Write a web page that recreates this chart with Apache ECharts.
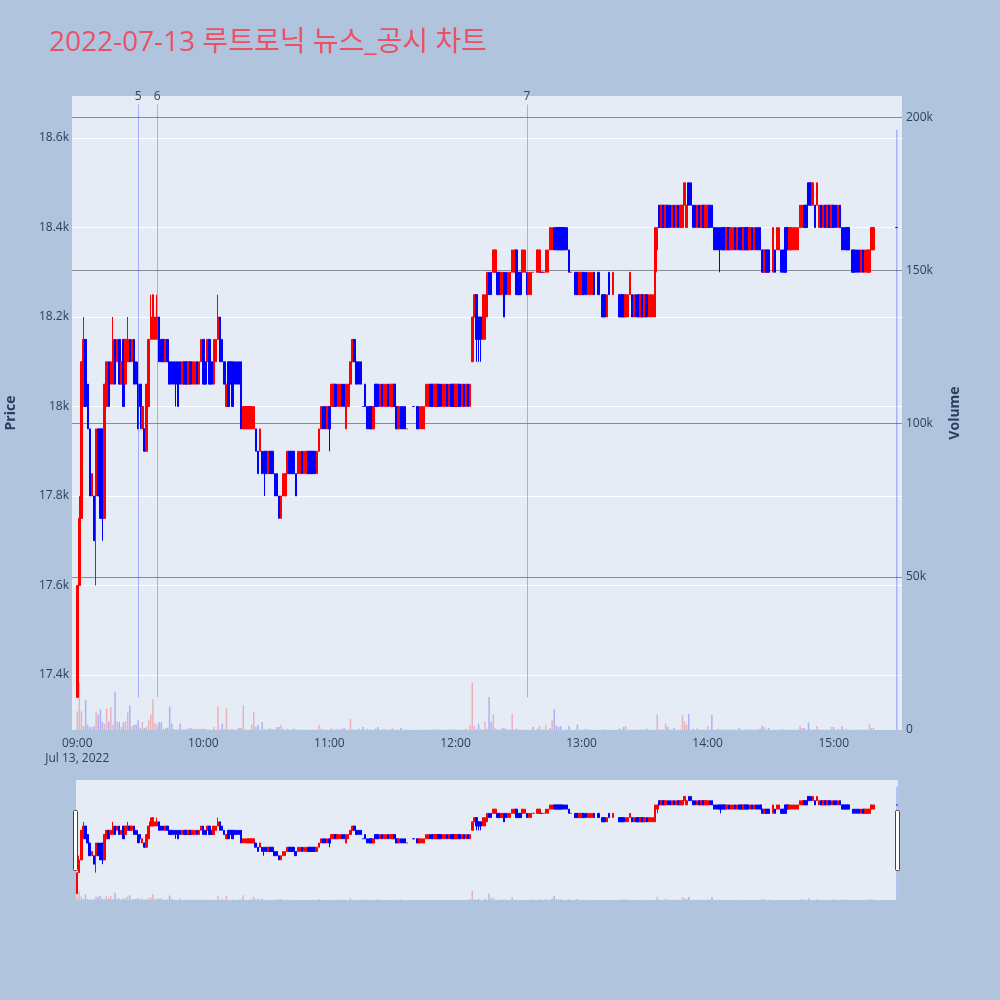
<!DOCTYPE html>
<html><head><meta charset="utf-8">
<script src="https://cdn.jsdelivr.net/npm/echarts@6/dist/echarts.min.js"></script>
<style>html,body{margin:0;padding:0;background:#B0C4DE;}#c{width:1000px;height:1000px;}</style>
</head><body><div id="c"></div>
<script>
const TITLE = '2022-07-13 루트로닉 뉴스_공시 차트';
const xTickLabels = ['09:00','10:00','11:00','12:00','13:00','14:00','15:00'];
const dateLabel = 'Jul 13, 2022';
// minute candles from 09:00 to 15:30: [open, close] or [open, close, low, high]; null = no trade
const candles = [
[17350,17600],[17600,17750,17600,17800],[17750,18100],[18000,18150,18000,18200],[18150,18000],[18050,17950],[17950,17800],[17800,17850],[17800,17700],[17800,17950,17600,17950],
[17950,17800],[17950,17750],[17950,17750,17700,17950],[17750,18050],[18000,18100],[18100,18000],[18050,18100],[18050,18150,18050,18200],[18150,18050],[18100,18150],
[18150,18050],[18050,18100],[18150,18000],[18050,18150],[18100,18150,18100,18200],[18150,18100],[18100,18150],[18150,18050],[18100,18050],[18050,17950,17950,18100],
[18050,18000,17950,18050],[17950,18000],[17950,17900],[17900,18050],[18000,18150],[18150,18200,18150,18250],[18150,18250],[18150,18200],[18150,18200,18150,18250],[18200,18100],
[18150,18100],[18150,18100],[18100,18150],[18150,18100],[18100,18050],[18100,18050],[18100,18050],[18100,18050,18000,18100],[18100,18000],[18100,18050],
[18050,18100],[18100,18050],[18100,18050],[18050,18100],[18100,18050],[18050,18100],[18050,18100],[18100,18050],[18050,18100],[18100,18150],
[18150,18050],[18100,18050],[18100,18150],[18150,18050],[18100,18050],[18050,18150],[18100,18150],[18150,18200,18150,18250],[18200,18100],[18150,18100],
[18100,18050],[18000,18050],[18100,18000],[18100,18050],[18100,18000],[18100,18050],[18100,18050],[18100,18050],[18100,17950],[17950,18000],
[17950,18000],[17950,18000],[17950,18000],[17950,18000],[17950,18000],[17950,17900],[17900,17850],[17900,17950],[17900,17850],[17900,17850,17800,17900],
[17900,17850],[17850,17900],[17900,17850],[17900,17850],[17850,17800],[17850,17800],[17800,17750],[17750,17800],[17800,17850],[17800,17850],
[17850,17900],[17900,17850],[17900,17850],[17900,17850],[17850,17800],[17850,17900],[17850,17900],[17900,17850],[17850,17900],[17850,17900],
[17900,17850],[17900,17850],[17900,17850],[17900,17850],[17850,17900],[17900,17950],[17950,18000],[18000,17950],[18000,17950],[17950,18000],
[18000,17950,17900,18000],[18000,18050],[18000,18050],[18050,18000],[18000,18050],[18000,18050],[18050,18000],[18050,18000],[17950,18050],[18000,18050],
[18050,18100],[18100,18150],[18150,18100],[18100,18050],[18100,18050],[18100,18050],[18000,18000],[18050,18000],[18000,17950],[18000,17950],
[18000,17950],[17950,18000],[18050,18000],[18050,18000],[18000,18050],[18050,18000],[18000,18050],[18000,18050],[18050,18000],[18000,18050],
[18000,18050],[18050,18000],[18000,17950],[17950,18000],[18000,17950],[18000,17950],[18000,17950],[17950,17950],null,null,
[18000,18000],null,[18000,17950],[17950,18000],[17950,18000],[17950,18000],[18000,18050],[18000,18050],[18050,18000],[18050,18000],
[18000,18050],[18000,18050],[18050,18000],[18050,18000],[18000,18050],[18000,18050],[18050,18000],[18000,18050],[18050,18000],[18050,18000],
[18000,18050],[18000,18050],[18050,18000],[18000,18050],[18050,18000],[18000,18050],[18050,18000],[18000,18050],[18100,18200],[18200,18250],
[18250,18150,18100,18250],[18200,18150,18100,18200],[18200,18150,18100,18200],[18150,18250],[18150,18250],[18200,18300],[18300,18250],[18300,18250],[18300,18350],[18300,18350],
[18300,18250],[18300,18250],[18250,18300],[18300,18200],[18300,18250],[18250,18300],[18250,18300],[18300,18350],[18300,18350],[18350,18250],
[18300,18250],[18300,18250],[18300,18350],[18300,18350],[18300,18250],[18250,18300],[18250,18300],[18300,18300],null,[18300,18350],
[18300,18350],[18300,18300],[18300,18300],[18300,18350],[18300,18350],[18350,18400],[18350,18400],[18400,18350],[18400,18350],[18400,18350],
[18400,18350],[18400,18350],[18400,18350],[18400,18350],[18350,18300],[18300,18300],null,[18300,18250],[18300,18250],[18250,18300],
[18250,18300],[18300,18250],[18300,18250],[18250,18300],[18250,18300],[18250,18300],[18300,18250],null,[18300,18250],null,
[18250,18200],[18250,18200],[18200,18250],[18300,18250],null,[18250,18300],null,null,[18250,18200],[18250,18200],
[18250,18200],[18200,18250],[18200,18250],[18250,18300],[18250,18200],[18200,18250],[18250,18200],[18250,18200],[18200,18250],[18250,18200],
[18200,18250],[18250,18200],[18200,18250],[18200,18250],[18200,18250],[18200,18400],[18350,18400,18300,18400],[18450,18400],[18400,18450],[18450,18400],
[18400,18450],[18450,18400],[18450,18400],[18400,18450],[18450,18400],[18400,18450],[18450,18400],[18400,18450],[18400,18450],[18450,18500],
[18400,18450],[18500,18450],[18500,18450],[18450,18400],[18450,18400],[18400,18450],[18450,18400],[18400,18450],[18450,18400],[18400,18450],
[18400,18450],[18450,18400],[18450,18400],[18400,18350],[18400,18350],[18400,18350],[18400,18350,18300,18400],[18400,18350],[18400,18350],[18350,18400],
[18400,18350],[18350,18400],[18350,18400],[18400,18350],[18350,18400],[18400,18350],[18400,18350],[18350,18400],[18400,18350],[18400,18350],
[18350,18400],[18400,18350],[18350,18400],[18400,18350],[18400,18350],[18400,18350],[18350,18300],[18300,18350],[18350,18300],[18350,18300],
null,[18300,18400],[18350,18300],[18350,18400],[18350,18400],[18350,18300],[18350,18300],[18400,18300],[18400,18350],[18350,18400],
[18350,18400],[18350,18400],[18350,18400],[18350,18400],[18400,18450],[18400,18450],[18450,18400],[18450,18400],[18500,18450],[18500,18450],
[18450,18500],[18450,18400],[18450,18500],[18400,18450],[18450,18400],[18400,18450],[18450,18400],[18400,18450],[18450,18400],[18400,18450],
[18450,18400],[18450,18400],[18400,18450],[18450,18400],[18400,18350],[18400,18350],[18400,18350],[18400,18350],null,[18350,18300],
[18350,18300],[18350,18300],[18350,18300],[18300,18350],[18350,18300],[18300,18350],[18300,18350],[18300,18350],[18350,18400],[18350,18400],
null,null,null,null,null,null,null,null,null,null,
[18400,18400]
];
const volumes = [
6100,15500,6100,1300,9800,1700,1000,1000,1300,6100,
5000,6800,2600,2000,7000,2800,7500,1750,12500,2800,
2600,1000,2600,2800,5700,8100,1300,1750,1750,3200,
700,2600,700,1000,3200,5000,10000,2400,1750,2600,
2600,300,700,700,7700,2100,300,100,200,2100,
200,100,300,600,600,400,400,400,300,400,
400,300,200,100,100,1000,100,7700,200,2100,
200,7200,200,200,200,100,100,660,660,8100,
200,100,100,1750,5700,1000,1750,100,2600,200,
100,440,440,200,200,1000,1000,1750,440,100,
440,100,100,440,100,100,100,200,100,100,
100,100,100,100,100,1750,440,100,200,100,
100,660,100,100,440,200,440,660,100,100,
3700,300,100,100,440,100,1000,100,440,100,
100,100,440,1000,100,100,440,100,100,100,
660,100,100,100,660,100,100,100,0,0,
100,0,100,100,100,100,200,100,100,100,
100,100,200,100,100,100,100,100,200,100,
100,100,100,100,100,440,100,1750,15500,1300,
200,1900,200,100,2800,440,10800,2600,5000,660,
100,100,440,660,440,100,100,5300,100,440,
100,100,100,100,100,100,100,1000,0,440,
1300,100,100,1750,100,660,3200,6800,1500,1000,
1300,100,100,100,1300,100,0,100,1750,100,
100,100,440,200,100,100,100,0,100,0,
200,100,100,100,0,100,0,0,440,100,
1000,1300,200,100,100,100,100,100,100,200,
100,440,100,100,100,100,5000,100,200,100,
2100,1000,100,200,660,100,100,100,4800,2800,
1750,5200,100,440,100,660,100,200,100,100,
1300,100,5000,100,100,440,200,100,100,100,
200,100,100,100,100,660,100,100,200,100,
200,100,100,100,100,440,1300,1000,100,660,
0,100,100,100,100,100,200,100,100,100,
100,100,100,100,1300,660,660,100,2400,200,
100,200,1300,200,100,100,100,100,100,1000,
1000,100,440,200,1300,100,440,100,0,100,
100,100,100,200,100,200,100,1800,660,660,
0,0,0,0,0,0,0,0,0,0,
196000
];
const newsMarkers = [
  {time:'09:29', label:'5'},
  {time:'09:38', label:'6'},
  {time:'12:34', label:'7'}
];

// ---- build ----
function hm(t){const h=Math.floor(t/60),m=t%60;return (h<10?'0':'')+h+':'+(m<10?'0':'')+m;}
const dayCats=[]; for(let t=540;t<=930;t++) dayCats.push(hm(t));
const mainCats=[hm(538),hm(539)].concat(dayCats,[hm(931),hm(932)]);
const ohlc = candles.map(r=>{ if(!r) return '-'; const o=r[0],c=r[1];
  const l=r.length>2?r[2]:Math.min(o,c), h=r.length>3?r[3]:Math.max(o,c); return [o,c,l,h];});
const volItems = volumes.map((v,i)=>{ const r=candles[i]; const up = r && r[1]>r[0];
  return {value: v, itemStyle:{color: up?'rgba(255,0,0,0.25)':'rgba(0,0,255,0.25)'}};});
const pad2=['-','-'];
const mainOhlc=pad2.concat(ohlc,pad2);
const mainVol=pad2.concat(volItems,pad2);

const PMIN=17277, PMAX=18694, VMAX=207000;
const FONT='"Open Sans", "Noto Sans CJK KR", sans-serif';
const TXT='#2a3f5f';

const chart=echarts.init(document.getElementById('c'));
chart.setOption({
  animation:false,
  backgroundColor:'#B0C4DE',
  title:{text:TITLE,left:49,top:29,padding:0,textStyle:{color:'#EB5064',fontSize:28,fontWeight:'normal',fontFamily:FONT}},
  grid:[
    {left:72,top:96,width:830,height:634,show:true,backgroundColor:'#E5ECF6',borderWidth:0,containLabel:false,outerBoundsMode:'none'},
    {left:76,top:780,width:822,height:120,show:true,backgroundColor:'#E5ECF6',borderWidth:0,containLabel:false,outerBoundsMode:'none'}
  ],
  xAxis:[
    {type:'category',gridIndex:0,data:mainCats,boundaryGap:true,
     axisLine:{show:false},axisTick:{show:false},splitLine:{show:false},
     axisLabel:{interval:(i,v)=>xTickLabels.indexOf(v)>=0,
       formatter:v=>v===xTickLabels[0]?v+'\n'+dateLabel:v,
       color:TXT,fontSize:12,fontFamily:FONT,margin:6,lineHeight:15}},
    {type:'category',gridIndex:1,data:dayCats,boundaryGap:true,show:false}
  ],
  yAxis:[
    {type:'value',gridIndex:0,min:PMIN,max:PMAX,splitNumber:7,position:'left',
     name:'Price',nameLocation:'middle',nameGap:54,nameRotate:90,
     nameTextStyle:{color:TXT,fontSize:14,fontWeight:'bold',fontFamily:FONT},
     axisLine:{show:false},axisTick:{show:false},
     axisLabel:{color:TXT,fontSize:12,fontFamily:FONT,margin:3,showMinLabel:false,showMaxLabel:false,
       formatter:v=>(v/1000)+'k'},
     splitLine:{show:true,showMinLine:false,showMaxLine:false,lineStyle:{color:'#ffffff',width:1}}},
    {type:'value',gridIndex:0,min:0,max:VMAX,interval:50000,position:'right',
     name:'Volume',nameLocation:'middle',nameGap:46,nameRotate:90,
     nameTextStyle:{color:TXT,fontSize:14,fontWeight:'bold',fontFamily:FONT},
     axisLine:{show:false},axisTick:{show:false},
     axisLabel:{color:TXT,fontSize:12,fontFamily:FONT,margin:4,showMaxLabel:false,
       formatter:v=>v===0?'0':(v/1000)+'k'},
     splitLine:{show:true,showMinLine:false,showMaxLine:false,lineStyle:{color:'#8c8c8c',width:1}}},
    {type:'value',gridIndex:1,min:PMIN,max:PMAX,show:false,splitLine:{show:false}},
    {type:'value',gridIndex:1,min:0,max:VMAX,show:false,splitLine:{show:false}}
  ],
  series:[
    {type:'bar',xAxisIndex:0,yAxisIndex:1,data:mainVol,barWidth:1.5,z:1,silent:true},
    {type:'candlestick',xAxisIndex:0,yAxisIndex:0,data:mainOhlc,barWidth:2,z:3,silent:true,
     itemStyle:{color:'#ff0000',color0:'#0000ff',borderColor:'#ff0000',borderColor0:'#0000ff',borderWidth:1},
     markLine:{silent:true,symbol:['none','none'],animation:false,
       lineStyle:{color:'rgba(70,100,255,0.45)',width:1,type:'solid'},
       label:{show:true,position:'end',distance:2,color:'#444',fontSize:12,fontFamily:FONT,formatter:p=>p.data.name||''},
       data:newsMarkers.map(mk=>[{coord:[mk.time,17350],name:mk.label},{coord:[mk.time,18675],name:mk.label}])}},
    {type:'bar',xAxisIndex:1,yAxisIndex:3,data:volItems,barWidth:1.5,z:1,silent:true},
    {type:'candlestick',xAxisIndex:1,yAxisIndex:2,data:ohlc,barWidth:2,z:3,silent:true,
     itemStyle:{color:'#ff0000',color0:'#0000ff',borderColor:'#ff0000',borderColor0:'#0000ff',borderWidth:1}}
  ],
  graphic:[
    {type:'rect',left:73,top:810,shape:{width:4,height:60,r:1},style:{fill:'#ffffff',stroke:'#444',lineWidth:1},z:100},
    {type:'rect',left:895,top:810,shape:{width:4,height:60,r:1},style:{fill:'#ffffff',stroke:'#444',lineWidth:1},z:100}
  ]
});
</script></body></html>
